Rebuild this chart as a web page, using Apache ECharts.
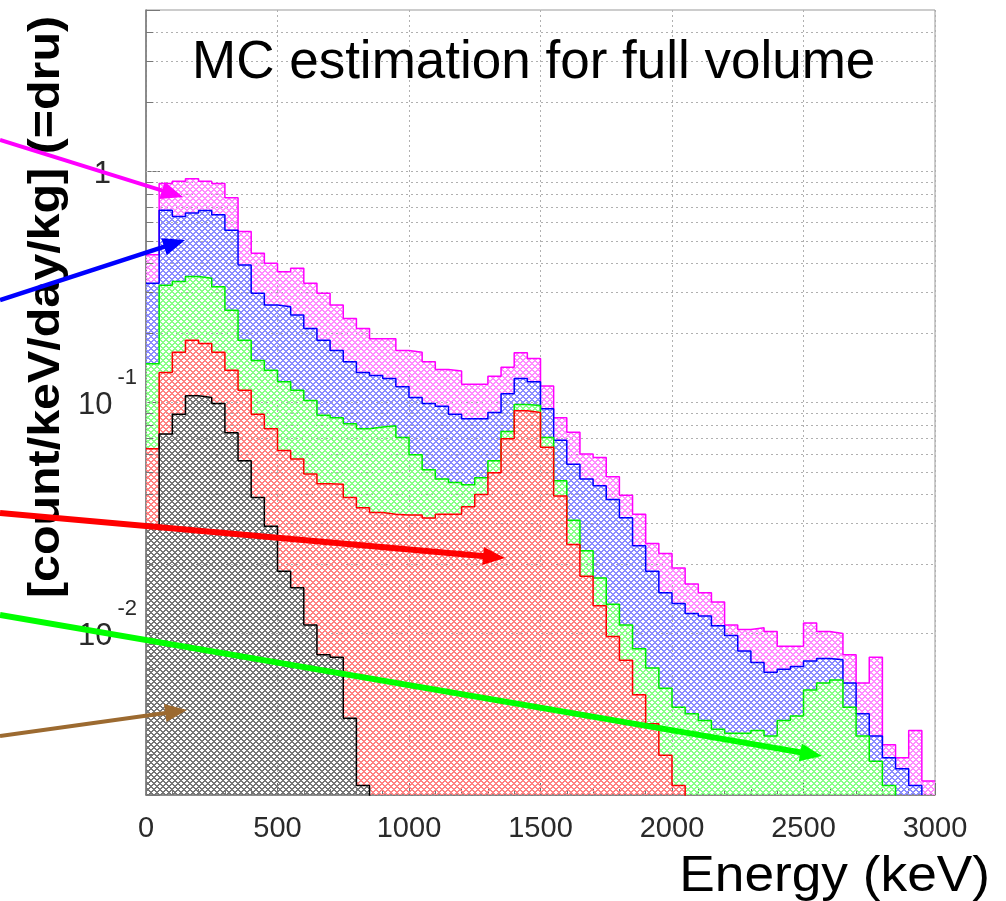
<!DOCTYPE html>
<html><head><meta charset="utf-8">
<script src="https://cdn.jsdelivr.net/npm/echarts@6/dist/echarts.min.js"></script>
<style>html,body{margin:0;padding:0;background:#fff}#c{width:1006px;height:901px}</style>
</head><body><div id="c"></div>
<script>
// Left edges of the 50 keV energy bins
const ENERGY_KEV = [0,50,100,150,200,250,300,350,400,450,500,550,600,650,700,750,800,850,900,950,
  1000,1050,1100,1150,1200,1250,1300,1350,1400,1450,1500,1550,1600,1650,1700,1750,1800,1850,1900,1950,
  2000,2050,2100,2150,2200,2250,2300,2350,2400,2450,2500,2550,2600,2650,2700,2750,2800,2850,2900,2950];
const X_END = 3000;
const X_TICKS = [0,500,1000,1500,2000,2500,3000];
const Y_LABELS = [1, 0.1, 0.01];
const Y_GRID = [0.003,0.004,0.005,0.006,0.007,0.008,0.009,0.01,0.02,0.03,0.04,0.05,0.06,0.07,0.08,0.09,
  0.1,0.2,0.3,0.4,0.5,0.6,0.7,0.8,0.9,1,2,3,4];

// Stacked (cumulative) levels, dru, read per bin
const MAGENTA_TOTAL = [0.436,0.887,0.907,0.929,0.907,0.887,0.769,0.550,0.443,0.401,
  0.368,0.381,0.328,0.297,0.264,0.231,0.209,0.189,0.189,0.168,
  0.165,0.150,0.139,0.137,0.120,0.120,0.130,0.142,0.164,0.155,
  0.118,0.0859,0.0743,0.0598,0.0578,0.0477,0.0397,0.0328,0.0245,0.0222,
  0.0192,0.0164,0.0150,0.0137,0.0109,0.0104,0.0106,0.0102,0.0088,0.0088,
  0.0111,0.0102,0.0100,0.0081,0.0061,0.0079,0.0033,0.0029,0.0038,0.0023];
const BLUE_LEVEL = [0.328,0.679,0.639,0.661,0.677,0.650,0.556,0.394,0.297,0.264,
  0.260,0.239,0.209,0.186,0.168,0.150,0.135,0.131,0.127,0.117,
  0.105,0.099,0.0963,0.089,0.085,0.085,0.0906,0.109,0.127,0.123,
  0.094,0.0686,0.0541,0.0466,0.0436,0.0380,0.0317,0.0240,0.0186,0.0150,
  0.0135,0.0122,0.0119,0.0108,0.0098,0.0084,0.0075,0.0068,0.0070,0.0072,
  0.0076,0.0078,0.0077,0.0061,0.0045,0.0036,0.0029,0.0026,0.0022,0.0019];
const GREEN_LEVEL = [0.147,0.322,0.334,0.351,0.345,0.317,0.251,0.186,0.152,0.138,
  0.123,0.113,0.102,0.088,0.086,0.081,0.077,0.0783,0.0794,0.0706,
  0.0594,0.0511,0.0466,0.0451,0.0441,0.0472,0.056,0.0749,0.098,0.097,
  0.0706,0.0458,0.0309,0.0228,0.0174,0.0134,0.0109,0.0086,0.0071,0.0058,
  0.0048,0.0045,0.0042,0.00385,0.0037,0.0037,0.0038,0.0036,0.0042,0.0044,
  0.0057,0.0061,0.0063,0.0048,0.0036,0.0028,0.0022,0,0,0];
const RED_LEVEL = [0.063,0.135,0.165,0.186,0.180,0.165,0.138,0.113,0.089,0.077,
  0.062,0.057,0.049,0.0445,0.0443,0.0388,0.035,0.0334,0.0328,0.0326,
  0.0326,0.0316,0.0328,0.0328,0.0354,0.040,0.0497,0.0696,0.092,0.0906,
  0.064,0.0394,0.0243,0.0177,0.0132,0.0097,0.00766,0.00543,0.00407,0.00297,
  0.0022,0,0,0,0,0,0,0,0,0,
  0,0,0,0,0,0,0,0,0,0];
const BLACK_LEVEL = [0.029,0.073,0.089,0.107,0.105,0.099,0.074,0.056,0.0388,0.0291,
  0.0186,0.0158,0.0109,0.0081,0.0079,0.0043,0.0022,0,0,0,
  0,0,0,0,0,0,0,0,0,0,
  0,0,0,0,0,0,0,0,0,0,
  0,0,0,0,0,0,0,0,0,0,
  0,0,0,0,0,0,0,0,0,0];

const FONT = "'Liberation Sans', Arial, Helvetica, sans-serif";
const FLOOR = 1e-4; // zero bins drawn below the visible axis range

function isDecade(v) { const l = Math.log10(v); return Math.abs(l - Math.round(l)) < 1e-6; }

function hatch(rgb) {
  const n = 6, c = document.createElement('canvas');
  c.width = n; c.height = n;
  const ctx = c.getContext('2d');
  const img = ctx.createImageData(n, n);
  for (let y = 0; y < n; y++) for (let x = 0; x < n; x++) {
    if (((x - y + n) % n) < 2 || ((x + y) % n) < 2) {
      const k = (y * n + x) * 4;
      img.data[k] = rgb[0]; img.data[k+1] = rgb[1]; img.data[k+2] = rgb[2]; img.data[k+3] = 255;
    }
  }
  ctx.putImageData(img, 0, 0);
  return { image: c, repeat: 'repeat' };
}
function stepData(vals) {
  const d = ENERGY_KEV.map((e, i) => [e, vals[i] > 0 ? vals[i] : FLOOR]);
  const last = vals[vals.length - 1];
  d.push([X_END, last > 0 ? last : FLOOR]);
  return d;
}
function histSeries(name, vals, line, fill, z) {
  return {
    type: 'line', name, data: stepData(vals), step: 'end', symbol: 'none', silent: true,
    animation: false, clip: true, z,
    lineStyle: { color: line, width: 1.5 },
    areaStyle: { color: hatch(fill), origin: 'start', opacity: 1 }
  };
}

const chart = echarts.init(document.getElementById('c'), null, { renderer: 'canvas' });

const series = [
  histSeries('magenta', MAGENTA_TOTAL, '#ff00ff', [255,140,255], 2),
  histSeries('blue', BLUE_LEVEL, '#0000ff', [140,140,255], 3),
  histSeries('green', GREEN_LEVEL, '#00ee00', [135,255,135], 4),
  histSeries('red', RED_LEVEL, '#ff0000', [255,130,130], 5),
  histSeries('black', BLACK_LEVEL, '#000000', [118,118,118], 6)
];
// dotted grid lines at every 1..9 x 10^k, below the histograms
series[0].markLine = {
  silent: true, symbol: 'none', z: 1, animation: false,
  label: { show: false },
  lineStyle: { type: [2, 3], color: '#b0b0b0', width: 1 },
  data: Y_GRID.map(v => ({ yAxis: v }))
};
// short minor tick marks on the left axis
series[1].markLine = {
  silent: true, symbol: 'none', z: 10, animation: false,
  label: { show: false },
  lineStyle: { type: 'solid', color: '#777', width: 1 },
  data: Y_GRID.filter(v => !isDecade(v)).map(v => [{ coord: [0, v] }, { coord: [28, v] }])
};

// annotation arrows (pixel positions)
const ARROWS = [
  { from: [0, 140], to: [183, 197], color: '#ff00ff', w: 4 },
  { from: [0, 300], to: [185, 240], color: '#0000ff', w: 4.5 },
  { from: [0, 513], to: [505, 558], color: '#ff0000', w: 6 },
  { from: [0, 615], to: [822, 756], color: '#00ff00', w: 6 },
  { from: [0, 736], to: [187, 710], color: '#9c6a30', w: 4 }
];
const graphics = [];
ARROWS.forEach(a => {
  const dx = a.to[0] - a.from[0], dy = a.to[1] - a.from[1];
  const len = Math.hypot(dx, dy), ux = dx / len, uy = dy / len;
  const L = 22, W = 9;
  const bx = a.to[0] - ux * L, by = a.to[1] - uy * L;
  graphics.push({ type: 'line', z: 100, silent: true,
    shape: { x1: a.from[0], y1: a.from[1], x2: bx + ux * 2, y2: by + uy * 2 },
    style: { stroke: a.color, lineWidth: a.w } });
  graphics.push({ type: 'polygon', z: 100, silent: true,
    shape: { points: [[a.to[0], a.to[1]], [bx - uy * W, by + ux * W], [bx + uy * W, by - ux * W]] },
    style: { fill: a.color } });
});
graphics.push({ type: 'text', z: 50, silent: true, x: 990, y: 877, scaleX: 1.065,
  style: { text: 'Energy (keV)', font: '50px ' + FONT, fill: '#000', align: 'right', verticalAlign: 'middle' } });
graphics.push({ type: 'text', z: 50, silent: true, x: 47, y: 307, rotation: Math.PI / 2, scaleX: 1.1,
  style: { text: '[count/keV/day/kg] (=dru)', font: 'bold 44px ' + FONT, fill: '#000', align: 'center', verticalAlign: 'middle' } });

chart.setOption({
  animation: false,
  backgroundColor: '#fff',
  title: { text: 'MC estimation for full volume', left: 192, top: 37, padding: 0,
    textStyle: { fontFamily: FONT, fontSize: 53, fontWeight: 'normal', color: '#000' } },
  grid: { left: 146, right: 71, top: 10, bottom: 106, show: true, borderColor: '#999', borderWidth: 1, backgroundColor: 'transparent' },
  xAxis: {
    type: 'value', min: 0, max: X_END, interval: 500,
    axisLine: { show: true, lineStyle: { color: '#777', width: 1.5 } },
    axisTick: { show: true, inside: true, length: 12, lineStyle: { color: '#777' } },
    minorTick: { show: true, splitNumber: 5, length: 6, lineStyle: { color: '#777' } },
    splitLine: { show: true, lineStyle: { type: [2, 3], color: '#b0b0b0' } },
    axisLabel: { fontFamily: FONT, fontSize: 29, color: '#2a2a2a', margin: 19,
      formatter: v => X_TICKS.includes(v) ? String(v) : '' }
  },
  yAxis: {
    type: 'log', logBase: 10, min: 0.002, max: 5,
    axisLine: { show: true, lineStyle: { color: '#777', width: 1.5 } },
    axisTick: { show: true, inside: true, length: 14, lineStyle: { color: '#777' } },
    splitLine: { show: false },
    axisLabel: {
      margin: 9,
      formatter: v => {
        if (!isDecade(v)) return '';
        const k = Math.round(Math.log10(v));
        if (!Y_LABELS.some(t => Math.abs(Math.log10(t) - k) < 1e-6)) return '';
        if (k === 0) return '{b|1}{g| }';
        return '{b|10}{e|' + k + '}';
      },
      rich: {
        b: { fontFamily: FONT, fontSize: 31, color: '#2a2a2a', padding: [6, 0, 0, 0] },
        e: { fontFamily: FONT, fontSize: 22, color: '#2a2a2a', padding: [0, 0, 50, 5] },
        g: { fontFamily: FONT, fontSize: 22, width: 26 }
      }
    }
  },
  series,
  graphic: graphics
});
</script></body></html>
